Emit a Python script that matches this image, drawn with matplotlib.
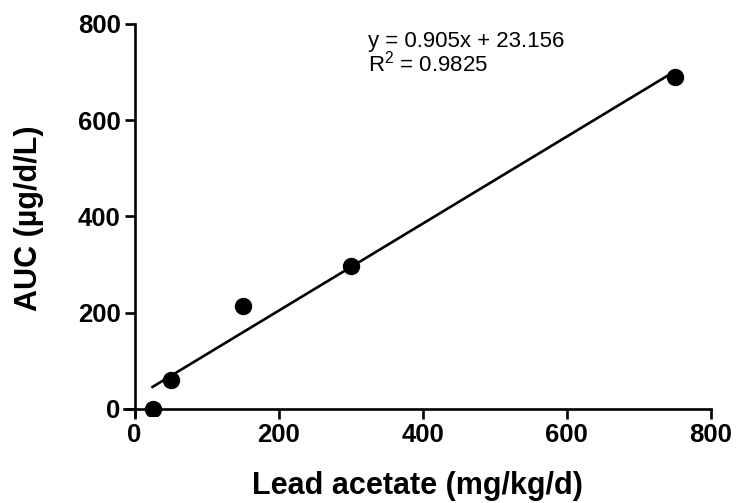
"""
Lead acetate dose vs AUC with linear regression fit.
"""

import numpy as np
import matplotlib
matplotlib.use("Agg")
import matplotlib.pyplot as plt

# dose (mg/kg/d) and AUC (ug/d/L)
dose = [25, 50, 150, 300, 750]
auc = [0, 60, 214, 297, 690]

# regression reported on the chart
slope = 0.905
intercept = 23.156
r2 = 0.9825

x_ticks = [0, 200, 400, 600, 800]
y_ticks = [0, 200, 400, 600, 800]

plt.rcParams.update({
    "font.family": ["Liberation Sans", "DejaVu Sans"],
    "mathtext.fontset": "custom",
    "mathtext.rm": "Liberation Sans",
    "mathtext.it": "Liberation Sans:italic",
    "mathtext.bf": "Liberation Sans:bold",
})

fig = plt.figure(figsize=(7.38, 5.03), dpi=100)
ax = fig.add_axes([0.1686, 0.1726, 0.9634 - 0.1686, 0.9523 - 0.1726])

ax.plot(dose, auc, "o", color="black", markersize=11.5, zorder=3)

fit_x = np.array([dose[0], dose[-1]])
ax.plot(fit_x, slope * fit_x + intercept, color="black", lw=1.9, zorder=2)

ax.set_xlim(-14, 800)
ax.set_ylim(-15, 800)
ax.set_xticks(x_ticks)
ax.set_yticks(y_ticks)

for side in ("top", "right"):
    ax.spines[side].set_visible(False)
ax.spines["left"].set_position(("data", 0))
ax.spines["bottom"].set_position(("data", 0))
for side in ("left", "bottom"):
    ax.spines[side].set_linewidth(1.9)

ax.tick_params(direction="out", length=7.5, width=1.9, labelsize=18.5, pad=2.5)
for lab in ax.get_xticklabels() + ax.get_yticklabels():
    lab.set_fontweight("bold")

ax.set_xlabel("Lead acetate (mg/kg/d)", fontsize=22, fontweight="bold", va="baseline")
ax.xaxis.set_label_coords(0.5, -0.198)
ax.set_ylabel("AUC (\u00b5g/d/L)", fontsize=22, fontweight="bold", va="center")
ax.yaxis.set_label_coords(-0.163, 0.505)

ax.text(324, 752, f"y = {slope}x + {intercept}", fontsize=16, va="baseline", ha="left")
ax.text(324, 701, f"R$^2$ = {r2}", fontsize=16, va="baseline", ha="left")

fig.savefig("out.png", dpi=100)
